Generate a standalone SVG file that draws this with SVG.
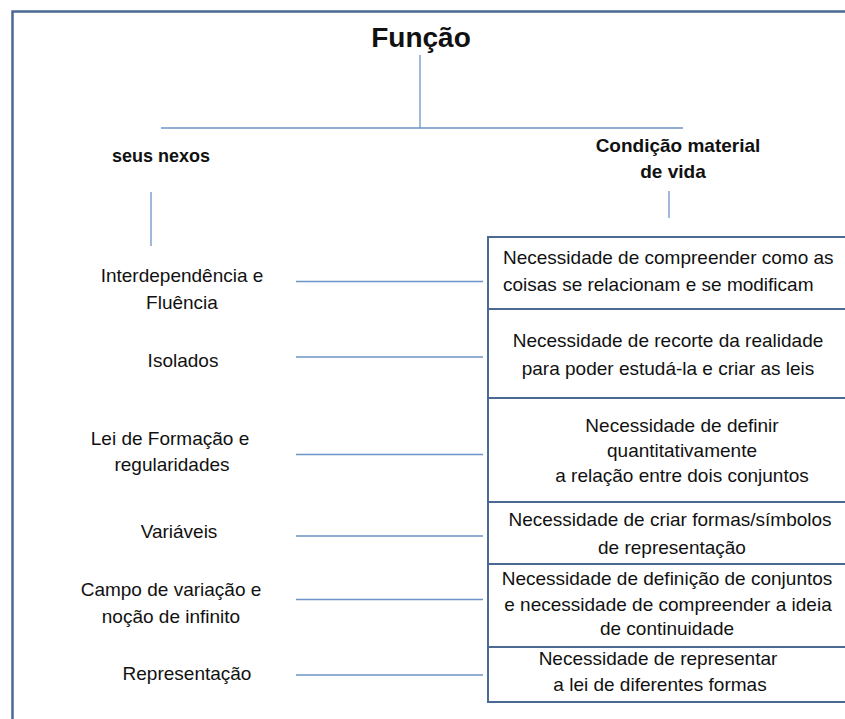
<svg xmlns="http://www.w3.org/2000/svg" width="845" height="719" viewBox="0 0 845 719">
<style>
.t{font-family:"Liberation Sans",Arial,sans-serif;font-size:19px;fill:#111;text-anchor:middle}
.b{font-weight:bold}
.l{text-anchor:start}
.box{fill:#fff;stroke:#4a6a94;stroke-width:2}
.c{stroke:#6d93c6;stroke-width:1.3;fill:none}
</style>
<rect width="845" height="719" fill="#fff"/>
<rect x="12.5" y="11.5" width="860" height="740" fill="none" stroke="#4a6a94" stroke-width="2.5"/>
<g id="connectors">
<line class="c" x1="420" y1="55" x2="420" y2="128"/>
<line class="c" x1="161" y1="128" x2="683" y2="128"/>
<line class="c" x1="151" y1="192" x2="151" y2="246"/>
<line class="c" x1="669" y1="191" x2="669" y2="218"/>
<line class="c" x1="296" y1="281.5" x2="483" y2="281.5"/>
<line class="c" x1="296" y1="357" x2="483" y2="357"/>
<line class="c" x1="296" y1="454.5" x2="483" y2="454.5"/>
<line class="c" x1="296" y1="536" x2="483" y2="536"/>
<line class="c" x1="296" y1="599.5" x2="483" y2="599.5"/>
<line class="c" x1="296" y1="675" x2="483" y2="675"/>
</g>
<g id="title"><text class="t b" x="421" y="47" style="font-size:28px">Função</text></g>
<g id="seus-nexos"><text class="t b" x="161" y="162" style="font-size:18px">seus nexos</text></g>
<g id="condicao"><text class="t b" x="678" y="152">Condição material</text><text class="t b" x="673" y="178">de vida</text></g>
<g id="n1"><text class="t" x="182" y="282">Interdependência e</text><text class="t" x="182" y="309">Fluência</text></g>
<g id="n2"><text class="t" x="183" y="367">Isolados</text></g>
<g id="n3"><text class="t" x="170" y="445">Lei de Formação e</text><text class="t" x="172" y="471">regularidades</text></g>
<g id="n4"><text class="t" x="179" y="538">Variáveis</text></g>
<g id="n5"><text class="t" x="171" y="596">Campo de variação e</text><text class="t" x="171" y="623">noção de infinito</text></g>
<g id="n6"><text class="t" x="187" y="680">Representação</text></g>
<g id="b1"><rect class="box" x="488" y="237" width="380" height="72"/><text class="t l" x="503" y="264">Necessidade de compreender como as</text><text class="t l" x="503" y="291">coisas se relacionam e se modificam</text></g>
<g id="b2"><rect class="box" x="488" y="309" width="380" height="89"/><text class="t" x="668" y="347">Necessidade de recorte da realidade</text><text class="t" x="668" y="375">para poder estudá-la e criar as leis</text></g>
<g id="b3"><rect class="box" x="488" y="398" width="380" height="104"/><text class="t" x="682" y="432">Necessidade de definir</text><text class="t" x="682" y="457">quantitativamente</text><text class="t" x="682" y="482">a relação entre dois conjuntos</text></g>
<g id="b4"><rect class="box" x="488" y="502" width="380" height="62"/><text class="t" x="670" y="526">Necessidade de criar formas/símbolos</text><text class="t" x="672" y="554">de representação</text></g>
<g id="b5"><rect class="box" x="488" y="564" width="380" height="83"/><text class="t" x="667" y="585">Necessidade de definição de conjuntos</text><text class="t" x="668" y="611">e necessidade de compreender a ideia</text><text class="t" x="667" y="635">de continuidade</text></g>
<g id="b6"><rect class="box" x="488" y="647" width="380" height="55"/><text class="t" x="658" y="665">Necessidade de representar</text><text class="t" x="660" y="691">a lei de diferentes formas</text></g>
</svg>
